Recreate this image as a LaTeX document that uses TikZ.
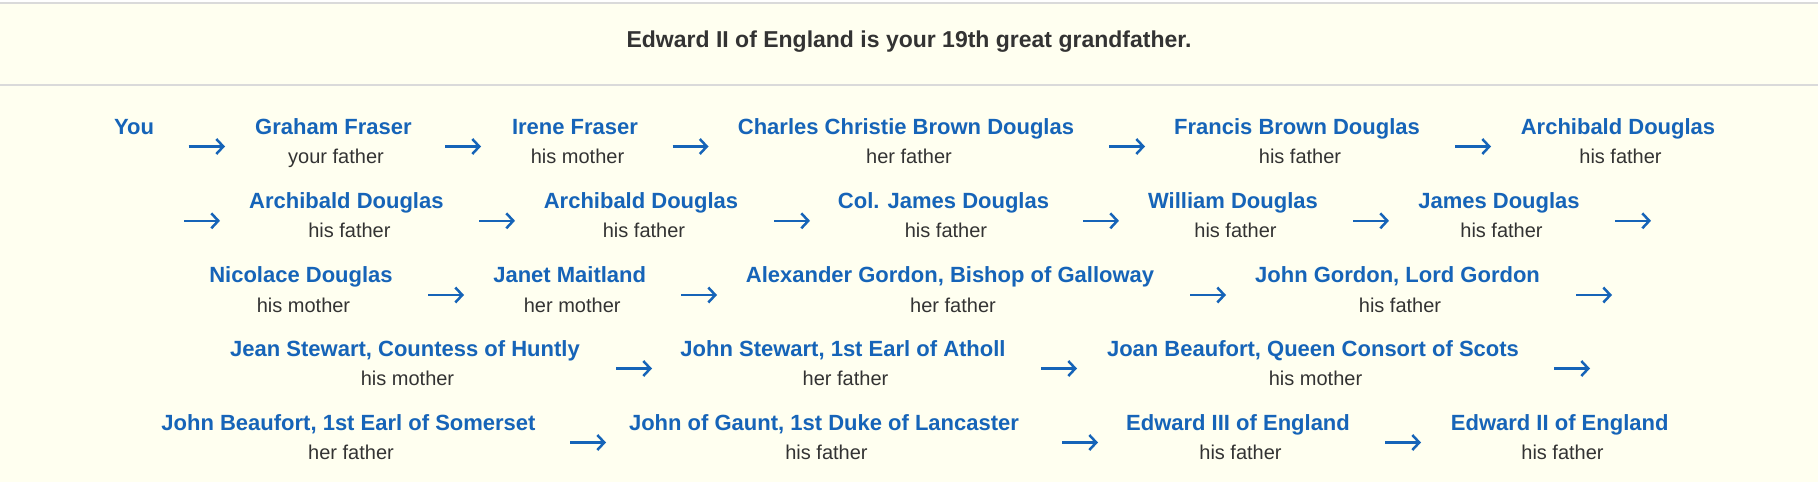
\documentclass[tikz,border=0pt]{standalone}
\usepackage{fontspec}
\setmainfont{Liberation Sans}
\usetikzlibrary{arrows.meta}
\definecolor{bgcol}{HTML}{FFFFF0}
\definecolor{namecol}{HTML}{1664B8}
\definecolor{relcol}{HTML}{333333}
\definecolor{linecol}{HTML}{DADADA}
\newcommand\linkarrow[4]{%
  \coordinate (#1s) at (#2,#4);
  \coordinate (#1e) at (#3,#4);
  \draw[arrowline] (#1s) -- (#1e);}
\tikzset{
  personname/.style={font=\fontsize{22}{26}\selectfont\bfseries, text=namecol, anchor=base, inner sep=0pt},
  relnode/.style={font=\fontsize{20}{24}\selectfont, text=relcol, anchor=base, inner sep=0pt},
  titlenode/.style={font=\fontsize{23}{28}\selectfont\bfseries, text=relcol, anchor=base, inner sep=0pt},
  arrowline/.style={draw=namecol, line width=2.5pt, -{Straight Barb[length=7pt,width=15pt]}},
  rule/.style={draw=linecol, line width=2pt}
}
\begin{document}
\begin{tikzpicture}[x=1pt,y=-1pt]
\fill[bgcol] (0,0) rectangle (1818,482);
\useasboundingbox (0,0) rectangle (1818,482);
\fill[white] (0,0) rectangle (1818,1.5);
\coordinate (tl) at (0,2.5); \coordinate (tr) at (1818,2.5);
\draw[rule] (tl) -- (tr);
\coordinate (hl) at (0,85); \coordinate (hr) at (1818,85);
\draw[rule] (hl) -- (hr);
\node[titlenode] (title) at (909,47.7) {Edward II of England is your 19th great grandfather.};

% Row 1
\node[personname] (p0) at (134,134) {You};
\node[personname] (p1) at (333.5,134) {Graham Fraser};
\node[relnode] (r1) at (336,163.5) {your father};
\node[personname] (p2) at (575,134) {Irene Fraser};
\node[relnode] (r2) at (577.5,163.5) {his mother};
\node[personname] (p3) at (906,134) {Charles Christie Brown Douglas};
\node[relnode] (r3) at (909,163.5) {her father};
\node[personname] (p4) at (1297,134) {Francis Brown Douglas};
\node[relnode] (r4) at (1300,163.5) {his father};
\node[personname] (p5) at (1618,134) {Archibald Douglas};
\node[relnode] (r5) at (1620.5,163.5) {his father};
\linkarrow{a1}{188.5}{225}{146.5}
\linkarrow{a2}{445}{481}{146.5}
\linkarrow{a3}{672.5}{708.5}{146.5}
\linkarrow{a4}{1109}{1145}{146.5}
\linkarrow{a5}{1455}{1491}{146.5}

% Row 2
\node[personname] (p6) at (346.4,208.3) {Archibald Douglas};
\node[relnode] (r6) at (349.4,237.8) {his father};
\node[personname] (p7) at (641,208.3) {Archibald Douglas};
\node[relnode] (r7) at (644,237.8) {his father};
\node[personname] (p8) at (943.5,208.3) {Col. James Douglas};
\node[relnode] (r8) at (946,237.8) {his father};
\node[personname] (p9) at (1233,208.3) {William Douglas};
\node[relnode] (r9) at (1235.5,237.8) {his father};
\node[personname] (p10) at (1499,208.3) {James Douglas};
\node[relnode] (r10) at (1501.5,237.8) {his father};
\linkarrow{a6}{184}{220}{220.8}
\linkarrow{a7}{479}{515}{220.8}
\linkarrow{a8}{774}{810}{220.8}
\linkarrow{a9}{1083}{1119}{220.8}
\linkarrow{a10}{1353}{1389}{220.8}
\linkarrow{a11}{1615}{1651}{220.8}

% Row 3
\node[personname] (p11) at (301,282.5) {Nicolace Douglas};
\node[relnode] (r11) at (303.5,312) {his mother};
\node[personname] (p12) at (569.7,282.5) {Janet Maitland};
\node[relnode] (r12) at (572.2,312) {her mother};
\node[personname] (p13) at (950,282.5) {Alexander Gordon, Bishop of Galloway};
\node[relnode] (r13) at (953,312) {her father};
\node[personname] (p14) at (1397.5,282.5) {John Gordon, Lord Gordon};
\node[relnode] (r14) at (1400,312) {his father};
\linkarrow{a12}{428}{464}{295}
\linkarrow{a13}{681}{717}{295}
\linkarrow{a14}{1190}{1226}{295}
\linkarrow{a15}{1576}{1612}{295}

% Row 4
\node[personname] (p15) at (405,356) {Jean Stewart, Countess of Huntly};
\node[relnode] (r15) at (407.5,385.5) {his mother};
\node[personname] (p16) at (843,356) {John Stewart, 1st Earl of Atholl};
\node[relnode] (r16) at (845.5,385.5) {her father};
\node[personname] (p17) at (1313,356) {Joan Beaufort, Queen Consort of Scots};
\node[relnode] (r17) at (1315.5,385.5) {his mother};
\linkarrow{a16}{616}{652}{368.5}
\linkarrow{a17}{1041}{1077}{368.5}
\linkarrow{a18}{1554}{1590}{368.5}

% Row 5
\node[personname] (p18) at (348.5,430) {John Beaufort, 1st Earl of Somerset};
\node[relnode] (r18) at (351,459.5) {her father};
\node[personname] (p19) at (824,430) {John of Gaunt, 1st Duke of Lancaster};
\node[relnode] (r19) at (826.5,459.5) {his father};
\node[personname] (p20) at (1238,430) {Edward III of England};
\node[relnode] (r20) at (1240.5,459.5) {his father};
\node[personname] (p21) at (1559.7,430) {Edward II of England};
\node[relnode] (r21) at (1562.5,459.5) {his father};
\linkarrow{a19}{570}{606}{442.5}
\linkarrow{a20}{1062}{1098}{442.5}
\linkarrow{a21}{1385}{1421}{442.5}
\end{tikzpicture}
\end{document}
